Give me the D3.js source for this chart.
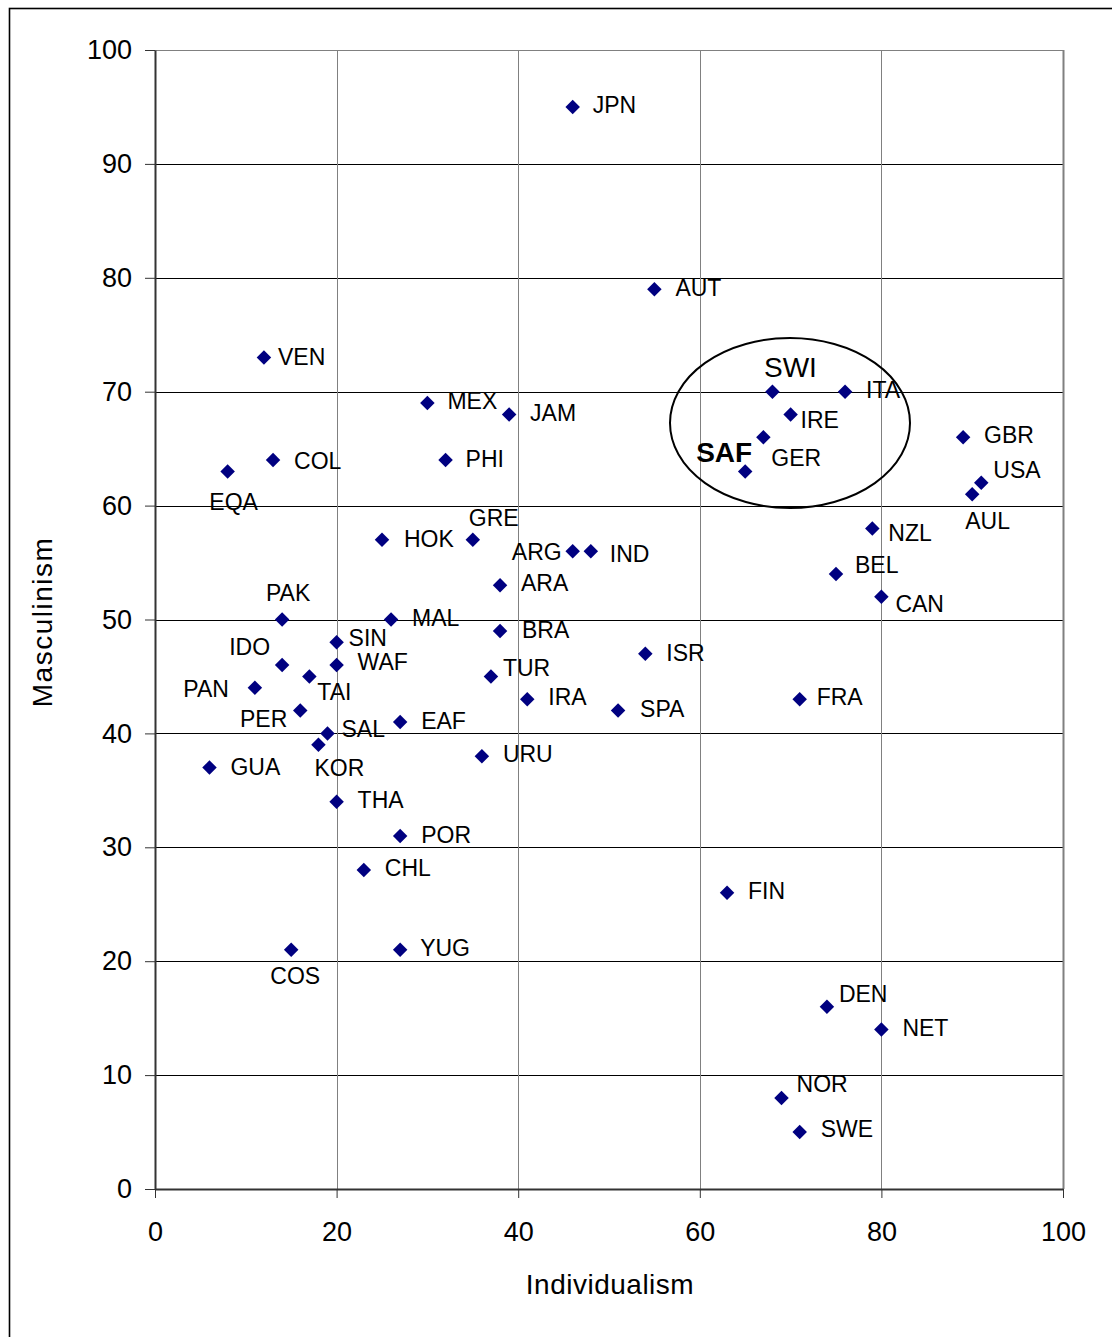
<!DOCTYPE html>
<html><head><meta charset="utf-8">
<script src="https://cdnjs.cloudflare.com/ajax/libs/d3/7.8.5/d3.min.js"></script>
<style>body{margin:0;background:#fff}svg{display:block}</style>
</head><body>
<script>
const countries = ["JPN","AUT","VEN","MEX","JAM","PHI","COL","EQA","HOK","GRE","ARG","IND","ARA","PAK","MAL","SIN","BRA","ISR","IDO","WAF","TUR","TAI","PAN","IRA","FRA","PER","SPA","EAF","SAL","KOR","GUA","URU","THA","POR","CHL","FIN","COS","YUG","DEN","NET","NOR","SWE","SWI","ITA","IRE","GER","SAF","GBR","USA","AUL","NZL","BEL","CAN"];
const individualism = [46,55,12,30,39,32,13,8,25,35,46,48,38,14,26,20,38,54,14,20,37,17,11,41,71,16,51,27,19,18,6,36,20,27,23,63,15,27,74,80,69,71,68,76,70,67,65,89,91,90,79,75,80];
const masculinism = [95,79,73,69,68,64,64,63,57,57,56,56,53,50,50,48,49,47,46,46,45,45,44,43,43,42,42,41,40,39,37,38,34,31,28,26,21,21,16,14,8,5,70,70,68,66,63,66,62,61,58,54,52];
const xTicks = [0,20,40,60,80,100];
const yTicks = [0,10,20,30,40,50,60,70,80,90,100];
const xTitle = "Individualism";
const yTitle = "Masculinism";
const highlighted = ["SWI","SAF"];

// label placement: [dx, dy(center), anchor]
const labelPlace = {
  JPN:[20,-2,"start"],AUT:[21,-1,"start"],VEN:[14,-1,"start"],MEX:[20,-2,"start"],JAM:[21,-2,"start"],
  PHI:[20,-1,"start"],COL:[21,1,"start"],EQA:[6,31,"middle"],HOK:[22,-1,"start"],GRE:[-4,-22,"start"],
  ARG:[-11,1,"end"],IND:[19,3,"start"],ARA:[21,-2,"start"],PAK:[6,-27,"middle"],MAL:[21,-2,"start"],
  SIN:[12,-4,"start"],BRA:[22,-1,"start"],ISR:[21,-1,"start"],IDO:[-12,-18,"end"],WAF:[21,-3,"start"],
  TUR:[12,-9,"start"],TAI:[8,15,"start"],PAN:[-26,1,"end"],IRA:[21,-2,"start"],FRA:[17,-2,"start"],
  PER:[-13,8,"end"],SPA:[22,-2,"start"],EAF:[21,-1,"start"],SAL:[14,-4,"start"],KOR:[-4,23,"start"],
  GUA:[21,-1,"start"],URU:[21,-2,"start"],THA:[21,-2,"start"],POR:[21,-1,"start"],CHL:[21,-2,"start"],
  FIN:[21,-2,"start"],COS:[4,26,"middle"],YUG:[20,-2,"start"],DEN:[12,-13,"start"],NET:[21,-2,"start"],
  NOR:[15,-14,"start"],SWE:[21,-3,"start"],SWI:[18,-25,"middle"],ITA:[21,-2,"start"],IRE:[10,5,"start"],
  GER:[8,21,"start"],SAF:[7,-19,"end"],GBR:[21,-2,"start"],USA:[12,-13,"start"],AUL:[-7,27,"start"],
  NZL:[16,5,"start"],BEL:[19,-9,"start"],CAN:[14,7,"start"]
};

const W = 1112, H = 1337;
const svg = d3.select("body").append("svg").attr("width", W).attr("height", H);
const font = "'Liberation Sans', Arial, sans-serif";

// outer frame
svg.append("rect").attr("x",9.5).attr("y",8.5).attr("width",1120).attr("height",1340)
  .attr("fill","none").attr("stroke","#000").attr("stroke-width",1.6);

const x = d3.scaleLinear().domain([0,100]).range([155,1063]);
const y = d3.scaleLinear().domain([0,100]).range([1189,50]);

// horizontal gridlines
svg.append("g").selectAll("line").data(yTicks.filter(d=>d>0)).join("line")
  .attr("x1",x(0)).attr("x2",x(100)).attr("y1",d=>Math.round(y(d))+0.5).attr("y2",d=>Math.round(y(d))+0.5)
  .attr("stroke",d=>d===100?"#808080":"#000").attr("stroke-width",1);
// vertical gridlines
svg.append("g").selectAll("line").data(xTicks.filter(d=>d>0)).join("line")
  .attr("y1",y(0)).attr("y2",y(100)).attr("x1",d=>Math.round(x(d))+0.5).attr("x2",d=>Math.round(x(d))+0.5)
  .attr("stroke","#808080").attr("stroke-width",d=>d===100?2:1);

// axes
const xAxis = d3.axisBottom(x).tickValues(xTicks).tickSize(9).tickPadding(24).tickSizeOuter(0);
const yAxis = d3.axisLeft(y).tickValues(yTicks).tickSize(10).tickPadding(13).tickSizeOuter(0);
const gx = svg.append("g").attr("transform",`translate(0,${y(0)})`).call(xAxis);
const gy = svg.append("g").attr("transform",`translate(${x(0)},0)`).call(yAxis);
[gx,gy].forEach(g=>{
  g.select(".domain").attr("stroke","#333").attr("stroke-width",2);
  g.selectAll(".tick line").attr("stroke","#333");
  g.selectAll("text").attr("font-family",font).attr("font-size",27).attr("fill","#000");
});
gx.selectAll("text").attr("dy","0.71em");

// axis titles
svg.append("text").attr("x",610).attr("y",1294).attr("text-anchor","middle")
  .attr("font-family",font).attr("font-size",28).attr("letter-spacing",0.5).text(xTitle);
svg.append("text").attr("transform","translate(52,622) rotate(-90)").attr("text-anchor","middle")
  .attr("font-family",font).attr("font-size",28).attr("letter-spacing",1.5).text(yTitle);

// ellipse
svg.append("ellipse").attr("cx",790).attr("cy",423).attr("rx",120).attr("ry",85)
  .attr("fill","none").attr("stroke","#000").attr("stroke-width",2);

const data = countries.map((c,i)=>({c, xv:individualism[i], yv:masculinism[i]}));
svg.append("g").selectAll("path").data(data).join("path")
  .attr("d", d3.symbol().type(d3.symbolSquare).size(105))
  .attr("transform",d=>`translate(${x(d.xv)},${y(d.yv)}) rotate(45)`)
  .attr("fill","#000080");

svg.append("g").selectAll("text").data(data).join("text")
  .attr("x",d=>x(d.xv)+labelPlace[d.c][0])
  .attr("y",d=>y(d.yv)+labelPlace[d.c][1])
  .attr("dy","0.35em")
  .attr("text-anchor",d=>labelPlace[d.c][2])
  .attr("font-family",font)
  .attr("font-size",d=>highlighted.includes(d.c)?28:23)
  .attr("font-weight",d=>d.c==="SAF"?"bold":"normal")
  .attr("fill","#000")
  .text(d=>d.c);
</script>
</body></html>
